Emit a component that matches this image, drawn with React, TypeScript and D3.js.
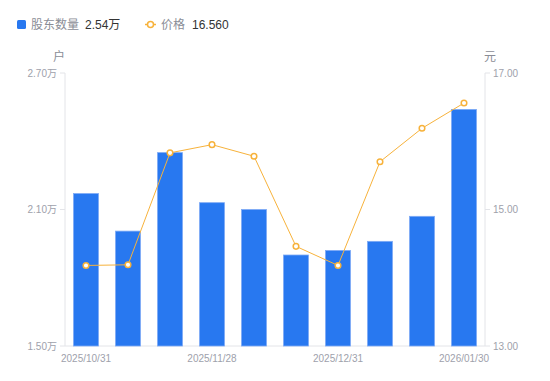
import React from "react";
import * as d3 from "d3";

const dates = ["2025/10/31","2025/11/07","2025/11/14","2025/11/28","2025/12/05","2025/12/12","2025/12/31","2026/01/09","2026/01/16","2026/01/30"];
const tickLabels = ["2025/10/31", "", "", "2025/11/28", "", "", "2025/12/31", "", "", "2026/01/30"];
const holders = [2.17, 2.005, 2.35, 2.13, 2.10, 1.90, 1.92, 1.96, 2.07, 2.54];
const prices = [14.18, 14.19, 15.83, 15.95, 15.78, 14.46, 14.18, 15.70, 16.19, 16.56];
const leftTicks = [1.5, 2.1, 2.7];
const rightTicks = [13, 15, 17];

const W = 550, H = 381;
const M = { left: 65, right: 485, top: 73, bottom: 346 };
const FONT = "'Liberation Sans', 'Noto Sans CJK SC', sans-serif";

export default function App() {
  const xc = d3.scalePoint<string>().domain(dates).range([M.left, M.right]).padding(0.5);
  const yL = d3.scaleLinear().domain([1.5, 2.7]).range([M.bottom, M.top]);
  const yR = d3.scaleLinear().domain([13, 17]).range([M.bottom, M.top]);
  const line = d3.line<number>().x((_, i) => xc(dates[i])!).y((d) => yR(d));
  const bw = 25;
  const axisColor = "#e3e4e8";
  const tickColor = "#9ea1ab";
  return (
    <svg width={W} height={H} style={{ position: "absolute", left: 0, top: 0, fontFamily: FONT }}>
      {/* legend */}
      <rect x={17} y={20} width={9} height={9} rx={1.5} fill="#2878f0" />
      <text x={31} y={29} fontSize={12} fill="#8a8d96">股东数量</text>
      <text x={85} y={29} fontSize={12} fill="#333">2.54万</text>
      <line x1={145} x2={156} y1={24.5} y2={24.5} stroke="#f7b23b" strokeWidth={1.5} />
      <circle cx={150.5} cy={24.5} r={3} fill="#fff" stroke="#f7b23b" strokeWidth={1.5} />
      <text x={161} y={29} fontSize={12} fill="#8a8d96">价格</text>
      <text x={192} y={29} fontSize={12} fill="#333">16.560</text>

      {/* unit labels */}
      <text x={59} y={61} fontSize={12} fill="#8a8d96" textAnchor="middle">户</text>
      <text x={490} y={61} fontSize={12} fill="#8a8d96" textAnchor="middle">元</text>

      {/* axes */}
      <line x1={M.left} x2={M.left} y1={M.top} y2={M.bottom} stroke={axisColor} />
      <line x1={M.right} x2={M.right} y1={M.top} y2={M.bottom} stroke={axisColor} />
      <line x1={M.left} x2={M.right} y1={M.bottom} y2={M.bottom} stroke={axisColor} />
      {leftTicks.map((t) => (
        <g key={"l" + t}>
          <line x1={M.left - 5} x2={M.left} y1={yL(t)} y2={yL(t)} stroke={axisColor} />
          <text x={M.left - 8} y={yL(t) + 3.5} fontSize={10} fill={tickColor} textAnchor="end">{t.toFixed(2) + "万"}</text>
        </g>
      ))}
      {rightTicks.map((t) => (
        <g key={"r" + t}>
          <line x1={M.right} x2={M.right + 5} y1={yR(t)} y2={yR(t)} stroke={axisColor} />
          <text x={M.right + 8} y={yR(t) + 3.5} fontSize={10} fill={tickColor}>{t.toFixed(2)}</text>
        </g>
      ))}
      {dates.map((d, i) => tickLabels[i] ? (
        <text key={"x" + i} x={xc(d)!} y={361.5} fontSize={10} fill={tickColor} textAnchor="middle">{tickLabels[i]}</text>
      ) : null)}

      {/* bars */}
      {holders.map((v, i) => (
        <rect key={"b" + i} x={xc(dates[i])! - bw / 2} y={yL(v)} width={bw} height={M.bottom - yL(v)}
          fill="#2878f0" stroke="#7eaaf5" strokeWidth={0.8} />
      ))}

      {/* line */}
      <path d={line(prices)!} fill="none" stroke="#f7b23b" strokeWidth={1} />
      {prices.map((p, i) => (
        <circle key={"p" + i} cx={xc(dates[i])!} cy={yR(p)} r={2.8} fill="#fff" stroke="#f7b23b" strokeWidth={1.5} />
      ))}
    </svg>
  );
}
